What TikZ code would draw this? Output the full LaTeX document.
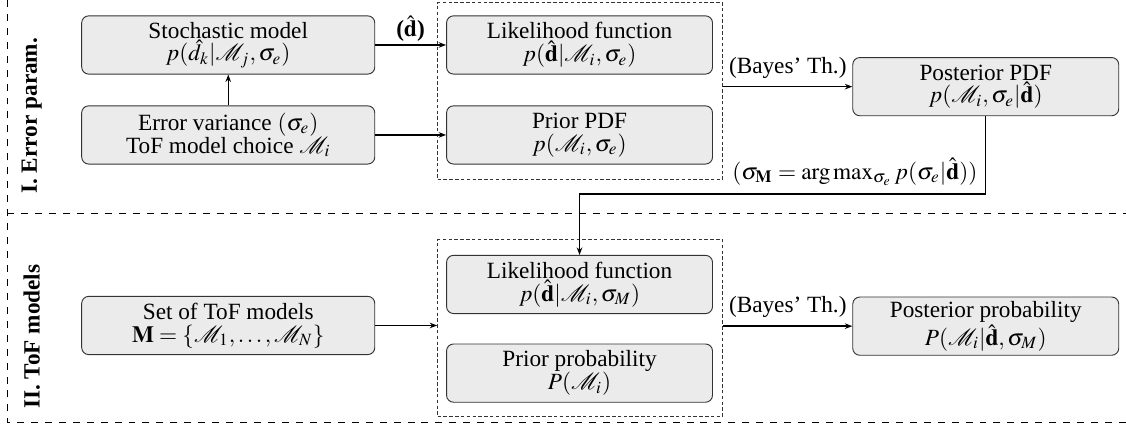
\documentclass[tikz,border=0pt]{standalone}
\usepackage{amsmath}
\usepackage{mathptmx}
\usepackage[no-math]{fontspec}
\setmainfont{Liberation Serif}
\usepackage{tikz}
\usetikzlibrary{arrows.meta}

\begin{document}
\begin{tikzpicture}[>={Stealth[length=3.2pt,width=2.4pt]},
	box/.style={draw=black!80,fill=black!8,rounded corners=3pt,align=center,
		minimum height=0.88cm,inner sep=1pt,font=\fontsize{10pt}{9.8pt}\selectfont},
	groupbox/.style={draw=black!80,dash pattern=on 1.5pt off 1pt,thin},
	link/.style={->,semithick}]
		\useasboundingbox (0,0) rectangle (17.02,6.45);
		
		% phases
		\draw[dashed] (17.02,0.06) -- (0.11,0.06) -- (0.11,6.45);
		\draw[dashed] (0.11,3.23) -- (17.02,3.23);
		\node[rotate=90,font=\bfseries] (phaseI) at (0.48,4.70) {I. Error param.};
		\node[rotate=90,font=\bfseries] (phaseII) at (0.48,1.36) {II. ToF models};
		
		% I. error parameter
		\node[box,minimum width=4.43cm] (stoch) at (3.45,5.77) {Stochastic model\\ $p(\hat{d}_k|\mathcal{M}_j,\sigma_e)$};
		\node[box,minimum width=4.43cm] (errvar) at (3.45,4.41) {Error variance $(\sigma_e)$\\ ToF model choice $\mathcal{M}_i$};
		\node[groupbox,minimum width=4.31cm,minimum height=2.67cm] (grpI) at (8.77,5.07) {};
		\node[box,minimum width=4.02cm] (likI) at (8.76,5.77) {Likelihood function\\ $p(\hat{\mathbf{d}}|\mathcal{M}_i,\sigma_e)$};
		\node[box,minimum width=4.02cm] (priI) at (8.76,4.41) {Prior PDF\\ $p(\mathcal{M}_i,\sigma_e)$};
		\node[box,minimum width=4.02cm] (postI) at (14.90,5.14) {Posterior PDF\\ $p(\mathcal{M}_i,\sigma_e|\hat{\mathbf{d}})$};
		
		\draw[->,thin] (errvar) -- (stoch);
		\draw[link] (stoch) -- node[above,yshift=-2pt] {\textbf{(}$\hat{\mathbf{d}}$\textbf{)}} (likI);
		\draw[link] (errvar) -- (priI);
		\draw[link] (grpI.east |- postI.west) -- node[above] {(Bayes' Th.)} (postI.west);
		
		% II. ToF models
		\node[box,minimum width=4.43cm] (models) at (3.45,1.53) {Set of ToF models\\ $\mathbf{M}=\{\mathcal{M}_1,\ldots,\mathcal{M}_N\}$};
		\node[groupbox,minimum width=4.31cm,minimum height=2.67cm] (grpII) at (8.77,1.49) {};
		\node[box,minimum width=4.02cm] (likII) at (8.76,2.15) {Likelihood function\\ $p(\hat{\mathbf{d}}|\mathcal{M}_i,\sigma_M)$};
		\node[box,minimum width=4.02cm] (priII) at (8.76,0.81) {Prior probability\\ $P(\mathcal{M}_i)$};
		\node[box,minimum width=4.02cm] (postII) at (14.90,1.52) {Posterior probability\\ $P(\mathcal{M}_i|\hat{\mathbf{d}},\sigma_M)$};
		
		\draw[link] (models.east) -- (models.east -| grpII.west);
		\draw[link] (grpII.east |- postII.west) -- node[above] {(Bayes' Th.)} (postII.west);
		
		% sigma_M handed down
		\coordinate (knee) at (postI.south |- 0,3.52);
		\draw[link] (postI.south) -- (knee) node[above left] {$(\sigma_{\mathbf{M}}=\arg\max_{\sigma_e} p(\sigma_e|\hat{\mathbf{d}}))$} -| (likII.north);
	\end{tikzpicture}
\end{document}
